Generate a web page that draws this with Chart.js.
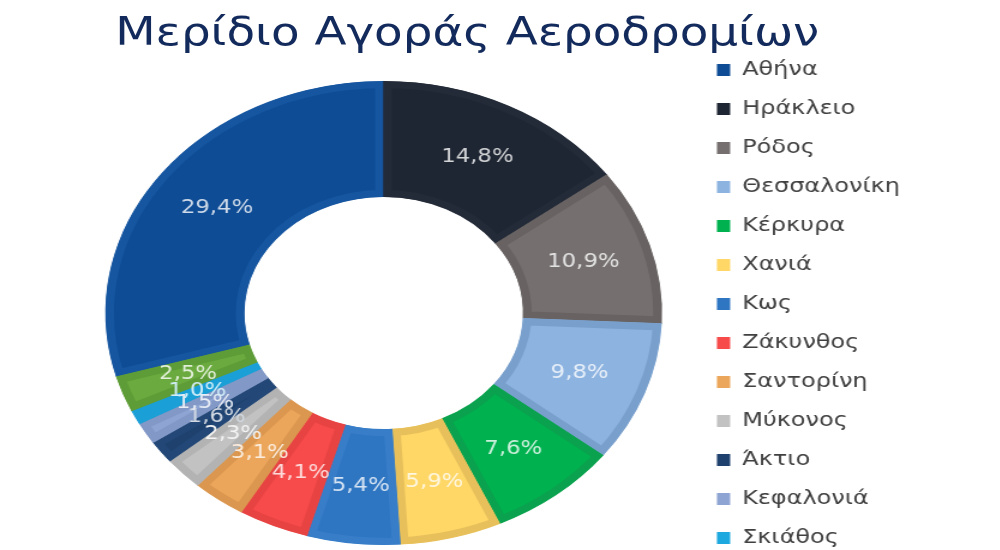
<!DOCTYPE html>
<html lang="el">
<head>
<meta charset="utf-8">
<title>Μερίδιο Αγοράς Αεροδρομίων</title>
<script src="https://cdn.jsdelivr.net/npm/chart.js@4.4.1/dist/chart.umd.min.js"></script>
<style>
  html, body { margin: 0; padding: 0; background: #fff; overflow: hidden; width: 1000px; height: 550px; }
  /* the reference is stretched sideways, so the whole chart is drawn narrower and widened */
  #stage { position: absolute; left: 0; top: 0; width: 834px; height: 585px; transform: scaleX(1.2); transform-origin: 0 0; }
  #chartBox { position: absolute; left: 0; top: 0; width: 834px; height: 585px; }
  #title { position: absolute; left: 96px; top: 9px; margin: 0; font: normal 39px/1.164 "DejaVu Sans", sans-serif; color: #132a5c; white-space: nowrap; }
</style>
</head>
<body>
<div id="stage">
  <div id="chartBox"><canvas id="shareChart"></canvas></div>
  <h1 id="title">Μερίδιο Αγοράς Αεροδρομίων</h1>
</div>
<script>
// Μερίδιο επιβατικής κίνησης ανά αεροδρόμιο (%)
const airports = ["Αθήνα", "Ηράκλειο", "Ρόδος", "Θεσσαλονίκη", "Κέρκυρα", "Χανιά", "Κως",
  "Ζάκυνθος", "Σαντορίνη", "Μύκονος", "Άκτιο", "Κεφαλονιά", "Σκιάθος", "Λοιπά"];
const shares = [29.4, 14.8, 10.9, 9.8, 7.6, 5.9, 5.4, 4.1, 3.1, 2.3, 1.6, 1.5, 1.0, 2.5];

const fillColors = ["#0e4c95", "#1f2633", "#75706f", "#8db3e0", "#00b24f", "#ffd766", "#2e75c2",
  "#f74b4b", "#eca65b", "#c2c2c2", "#1e416e", "#8ea5d3", "#1da8df", "#6aaa3e"];
const edgeColors = ["#1656a0", "#242b38", "#686362", "#79a0cd", "#0aa24e", "#e7c05c", "#377dc8",
  "#e84343", "#db974f", "#b3b3b3", "#234877", "#8298c6", "#1a9fd6", "#5d9c36"];

// only the first 13 entries are visible in the legend of the reference
const legendCount = 13;

function formatShare(v) {
  return v.toFixed(1).replace(".", ",") + "%";
}

// label colour: slice colour washed towards white
function tint(hex, amount) {
  const n = parseInt(hex.slice(1), 16);
  const ch = [(n >> 16) & 255, (n >> 8) & 255, n & 255].map(c => Math.round(c + (255 - c) * amount));
  return `rgb(${ch[0]}, ${ch[1]}, ${ch[2]})`;
}

const total = shares.reduce((a, b) => a + b, 0);
// Athens ends exactly at 12 o'clock
const startAngle = -(shares[0] / total) * 360;

// Ετικέτες ποσοστών στο κέντρο κάθε τμήματος
const sliceLabels = {
  id: "sliceLabels",
  afterDatasetsDraw(chart) {
    const ctx = chart.ctx;
    const meta = chart.getDatasetMeta(0);
    ctx.save();
    ctx.font = '19px "DejaVu Sans", sans-serif';
    ctx.textAlign = "center";
    ctx.textBaseline = "middle";
    meta.data.forEach((arc, i) => {
      const pos = arc.tooltipPosition();
      ctx.fillStyle = tint(fillColors[i], 0.8);
      ctx.fillText(formatShare(shares[i]), pos.x, pos.y);
    });
    ctx.restore();
  }
};

document.addEventListener("DOMContentLoaded", () => {
  const ctx = document.getElementById("shareChart").getContext("2d");
  new Chart(ctx, {
    type: "doughnut",
    data: {
      labels: airports,
      datasets: [
        {
          data: shares,
          backgroundColor: fillColors,
          borderColor: edgeColors,
          borderWidth: 7,
          borderAlign: "inner",
          radius: 232,
          cutout: "50%",
          rotation: startAngle,
          hoverOffset: 0,
        },
      ],
    },
    options: {
      responsive: true,
      maintainAspectRatio: false,
      animation: false,
      layout: {
        padding: { top: 41, left: 61, right: 74, bottom: 0 },
      },
      plugins: {
        legend: {
          position: "right",
          align: "start",
          labels: {
            boxWidth: 11,
            boxHeight: 12,
            padding: 19,
            color: "#404040",
            font: { family: "'DejaVu Sans', sans-serif", size: 20 },
            generateLabels: (chart) =>
              Chart.overrides.doughnut.plugins.legend.labels
                .generateLabels(chart)
                .filter((item) => item.index < legendCount)
                .map((item) => ({ ...item, lineWidth: 0, strokeStyle: item.fillStyle })),
          },
        },
        tooltip: { enabled: false },
      },
    },
    plugins: [sliceLabels],
  });
});
</script>
</body>
</html>
